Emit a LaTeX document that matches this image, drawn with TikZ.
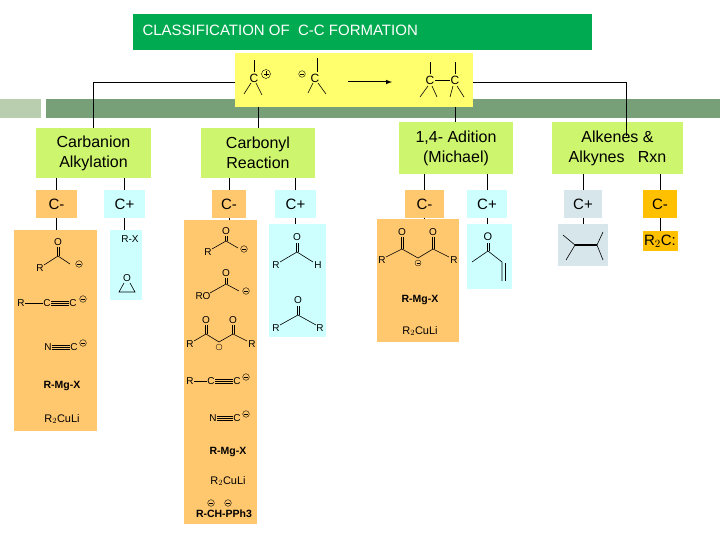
\documentclass[tikz,border=0pt]{standalone}
\usepackage{fontspec}
\setmainfont{Liberation Sans}
\begin{document}
\begin{tikzpicture}[x=1pt,y=-1pt,
 bx/.style={anchor=north west,inner sep=0pt,outer sep=0pt},
 cat/.style={bx,fill=catg,align=center,font=\fontsize{16}{20}\selectfont},
 sm/.style={bx,font=\fontsize{15}{17}\selectfont},
 ch/.style={font=\fontsize{10}{11}\selectfont,inner sep=0.5pt},
 chb/.style={font=\fontsize{10.5}{12}\selectfont\bfseries,inner sep=0.5pt},
 bd/.style={line width=0.6pt}]
\definecolor{ttl}{RGB}{0,170,80}
\definecolor{yel}{RGB}{255,255,110}
\definecolor{catg}{RGB}{205,245,110}
\definecolor{org}{RGB}{255,200,110}
\definecolor{cyn}{RGB}{205,255,255}
\definecolor{gry}{RGB}{215,230,235}
\definecolor{gold}{RGB}{255,192,0}
\definecolor{barl}{RGB}{185,205,175}
\definecolor{bard}{RGB}{120,160,120}
\newcommand\mc[1]{\draw[line width=0.4pt] #1 circle(3.3); \draw[line width=0.4pt] #1 ++(-2,0) -- ++(4,0);}
\useasboundingbox (0,0) rectangle (720,540);
\fill[white] (0,0) rectangle (720,540);
% bar
\fill[barl] (0,99) rectangle (41,118);
\fill[bard] (46,99) rectangle (720,118);
% title
\node[bx,fill=ttl,minimum width=459,minimum height=36] (title) at (133,14) {};
\node[anchor=west,text=white,font=\fontsize{15}{17}\selectfont] at (139,30) {CLASSIFICATION OF\ \ C-C FORMATION};
% yellow
\node[bx,fill=yel,minimum width=238,minimum height=54] (yb) at (235,53) {};
% category boxes
\node[cat,minimum width=115,minimum height=50] (ca) at (36,128) {Carbanion\\Alkylation};
\node[cat,minimum width=114,minimum height=50] (cr) at (201,128) {Carbonyl\\Reaction};
\node[cat,minimum width=114,minimum height=52] (mi) at (399,122) {1,4- Adition\\(Michael)};
\node[cat,minimum width=131,minimum height=52] (al) at (552,122) {Alkenes \&\\Alkynes\ \ \ Rxn};
% connectors from yellow
\draw (yb.west |- 0,82) -| (ca.north);
\draw (yb.east |- 0,82) -| (626,136);
\draw (yb.south -| 258,0) -- (cr.north -| 258,0);
\draw (yb.south -| 455,0) -- (mi.north -| 455,0);
% small boxes
\node[sm,fill=org,minimum width=41,minimum height=28] (s1) at (36,190) {C-};
\node[sm,fill=cyn,minimum width=41,minimum height=28] (s2) at (104,190) {C+};
\node[sm,fill=org,minimum width=34,minimum height=28] (s3) at (212,190) {C-};
\node[sm,fill=cyn,minimum width=41,minimum height=28] (s4) at (275,190) {C+};
\node[sm,fill=org,minimum width=39,minimum height=28] (s5) at (405,190) {C-};
\node[sm,fill=cyn,minimum width=40,minimum height=28] (s6) at (467,190) {C+};
\node[sm,fill=gry,minimum width=38,minimum height=28] (s7) at (564,190) {C+};
\node[sm,fill=gold,minimum width=34,minimum height=28] (s8) at (643,190) {C-};
\foreach \s/\c in {s1/ca,s2/ca,s3/cr,s4/cr,s5/mi,s6/mi,s7/al,s8/al} \draw (\s.north) -- (\s.north |- \c.south);
% content boxes
\node[bx,fill=org,minimum width=83,minimum height=201] (c1) at (14,230) {};
\node[bx,fill=cyn,minimum width=32,minimum height=70] (c2) at (110,230) {};
\node[bx,fill=org,minimum width=73,minimum height=304] (c3) at (184,220) {};
\node[bx,fill=cyn,minimum width=57,minimum height=113] (c4) at (269,224) {};
\node[bx,fill=org,minimum width=82,minimum height=123] (c5) at (377,219) {};
\node[bx,fill=cyn,minimum width=45,minimum height=65] (c6) at (467,224) {};
\node[bx,fill=gry,minimum width=50,minimum height=42] (c7) at (558,224) {};
\node[bx,fill=gold,minimum width=35,minimum height=20] (c8) at (643,231) {};
\foreach \s/\c in {s1/c1,s2/c2,s3/c3,s4/c4,s5/c5,s6/c6,s7/c7,s8/c8} \draw (\s.south) -- (\s.south |- \c.north);
% yellow structures
\node[ch,font=\fontsize{12}{13}\selectfont] (yc1) at (254,78) {C};
\draw[bd] (254,72) -- (254,60); \draw[bd] (251,83) -- (244,94); \draw[bd] (256,83) -- (262,95);
\draw (266,74) circle(4.5); \draw (263.5,74)--(268.5,74); \draw (266,71.5)--(266,76.5);
\node[ch,font=\fontsize{12}{13}\selectfont] (yc2) at (315,78) {C};
\mc{(302,74)}
\draw[bd] (317,72) -- (317,58); \draw[bd] (313,83) -- (308,93); \draw[bd] (318,83) -- (326,94);
\draw[-latex,line width=1pt] (348,82) -- (392,82);
\node[ch,font=\fontsize{12}{13}\selectfont] (yc3) at (430,80) {C}; \node[ch,font=\fontsize{12}{13}\selectfont] (yc4) at (455,80) {C};
\draw[bd] (yc3) -- (yc4);
\draw[bd] (430,74) -- (430,62); \draw[bd] (428,86) -- (420,97); \draw[bd] (432,86) -- (437,97);
\draw[bd] (455,74) -- (455,62); \draw[bd] (453,86) -- (450,97); \draw[bd] (457,86) -- (464,97);
% c1 structures
\node[ch] at (58,242) {O}; \node[ch] at (40,268) {R};
\draw[bd] (44,265) -- (58,256) -- (70,264); \draw[bd] (57,256)--(57,247); \draw[bd] (59,256)--(59,247);
\mc{(79,264)}
\node[ch] (r1) at (21,303) {R}; \node[ch] (cc1) at (47,303) {C}; \node[ch] (cc2) at (73,303) {C};
\draw[bd] (r1) -- (cc1); \draw[bd] (cc1) -- (cc2); \draw[bd] ([yshift=-2]cc1.east) -- ([yshift=-2]cc2.west); \draw[bd] ([yshift=2]cc1.east) -- ([yshift=2]cc2.west);
\mc{(83,299)}
\node[ch] (n1) at (48,347) {N}; \node[ch] (cc3) at (74,347) {C};
\draw[bd] (n1) -- (cc3); \draw[bd] ([yshift=-2]n1.east) -- ([yshift=-2]cc3.west); \draw[bd] ([yshift=2]n1.east) -- ([yshift=2]cc3.west);
\mc{(83,343)}
\node[chb] at (62,386) {R-Mg-X};
\node[ch,font=\fontsize{11}{12}\selectfont] at (62,419) {R$_2$CuLi};
% c2
\node[ch] at (130,239) {R-X};
\node[ch] at (127,278) {O};
\draw[bd] (124,283) -- (119,292) -- (135,292) -- (130,283);
% c3
\node[ch] at (226,231) {O}; \node[ch] at (208,252) {R};
\draw[bd] (212,249) -- (226,241) -- (238,248); \draw[bd] (225,241)--(225,236); \draw[bd] (227,241)--(227,236);
\mc{(244,249)}
\node[ch] at (226,273) {O}; \node[ch] at (203,296) {RO};
\draw[bd] (210,293) -- (226,284) -- (239,291); \draw[bd] (225,284)--(225,278); \draw[bd] (227,284)--(227,278);
\mc{(246,291)}
\node[ch] at (206,320) {O}; \node[ch] at (233,320) {O}; \node[ch] at (190,344) {R}; \node[ch] at (252,344) {R};
\draw[bd] (194,341) -- (206,334) -- (219,342) -- (233,334) -- (247,341);
\draw[bd] (205,334)--(205,325); \draw[bd] (207,334)--(207,325); \draw[bd] (232,334)--(232,325); \draw[bd] (234,334)--(234,325);
\draw[line width=0.3pt] (219,347) circle(3);
\node[ch] (r2) at (190,381) {R}; \node[ch] (cc4) at (211,381) {C}; \node[ch] (cc5) at (237,381) {C};
\draw[bd] (r2) -- (cc4); \draw[bd] (cc4) -- (cc5); \draw[bd] ([yshift=-2]cc4.east) -- ([yshift=-2]cc5.west); \draw[bd] ([yshift=2]cc4.east) -- ([yshift=2]cc5.west);
\mc{(246,377)}
\node[ch] (n2) at (213,418) {N}; \node[ch] (cc6) at (237,418) {C};
\draw[bd] (n2) -- (cc6); \draw[bd] ([yshift=-2]n2.east) -- ([yshift=-2]cc6.west); \draw[bd] ([yshift=2]n2.east) -- ([yshift=2]cc6.west);
\mc{(246,414)}
\node[chb] at (228,452) {R-Mg-X};
\node[ch,font=\fontsize{11}{12}\selectfont] at (228,481) {R$_2$CuLi};
\node[chb] at (224,514) {R-CH-PPh3};
\mc{(211,503)} \mc{(228,503)}
% c4
\node[ch] at (297,237) {O}; \node[ch] at (276,265) {R}; \node[ch] at (318,265) {H};
\draw[bd] (280,262) -- (297,252) -- (313,262); \draw[bd] (296,252)--(296,243); \draw[bd] (298,252)--(298,243);
\node[ch] at (298,300) {O}; \node[ch] at (276,328) {R}; \node[ch] at (320,328) {R};
\draw[bd] (280,325) -- (298,315) -- (316,325); \draw[bd] (297,315)--(297,306); \draw[bd] (299,315)--(299,306);
% c5
\node[ch] at (402,232) {O}; \node[ch] at (433,232) {O}; \node[ch] at (382,260) {R}; \node[ch] at (454,260) {R};
\draw[bd] (386,257) -- (402,249) -- (418,258) -- (433,249) -- (449,257);
\draw[bd] (401,249)--(401,237); \draw[bd] (403,249)--(403,237); \draw[bd] (432,249)--(432,237); \draw[bd] (434,249)--(434,237);
\draw[line width=0.3pt] (418,263) circle(3); \draw[line width=0.3pt] (416.5,263)--(419.5,263);
\node[chb] at (420,300) {R-Mg-X};
\node[ch,font=\fontsize{11}{12}\selectfont] at (420,331) {R$_2$CuLi};
% c6
\node[ch,font=\fontsize{11}{12}\selectfont] at (488,237) {O};
\draw[bd] (472,262) -- (488,251) -- (502,262) -- (502,281); \draw[bd] (505,263)--(505,281);
\draw[bd] (487,251)--(487,243); \draw[bd] (489,251)--(489,243);
% c7
\draw[line width=1.2pt] (575,245) -- (597,245);
\draw[bd] (563,235) -- (575,245) -- (566,260); \draw[bd] (603,232) -- (597,245) -- (603,260);
% c8
\node[font=\fontsize{15}{16}\selectfont,inner sep=0pt] at (660,241) {R$_2$C:};
\end{tikzpicture}
\end{document}
